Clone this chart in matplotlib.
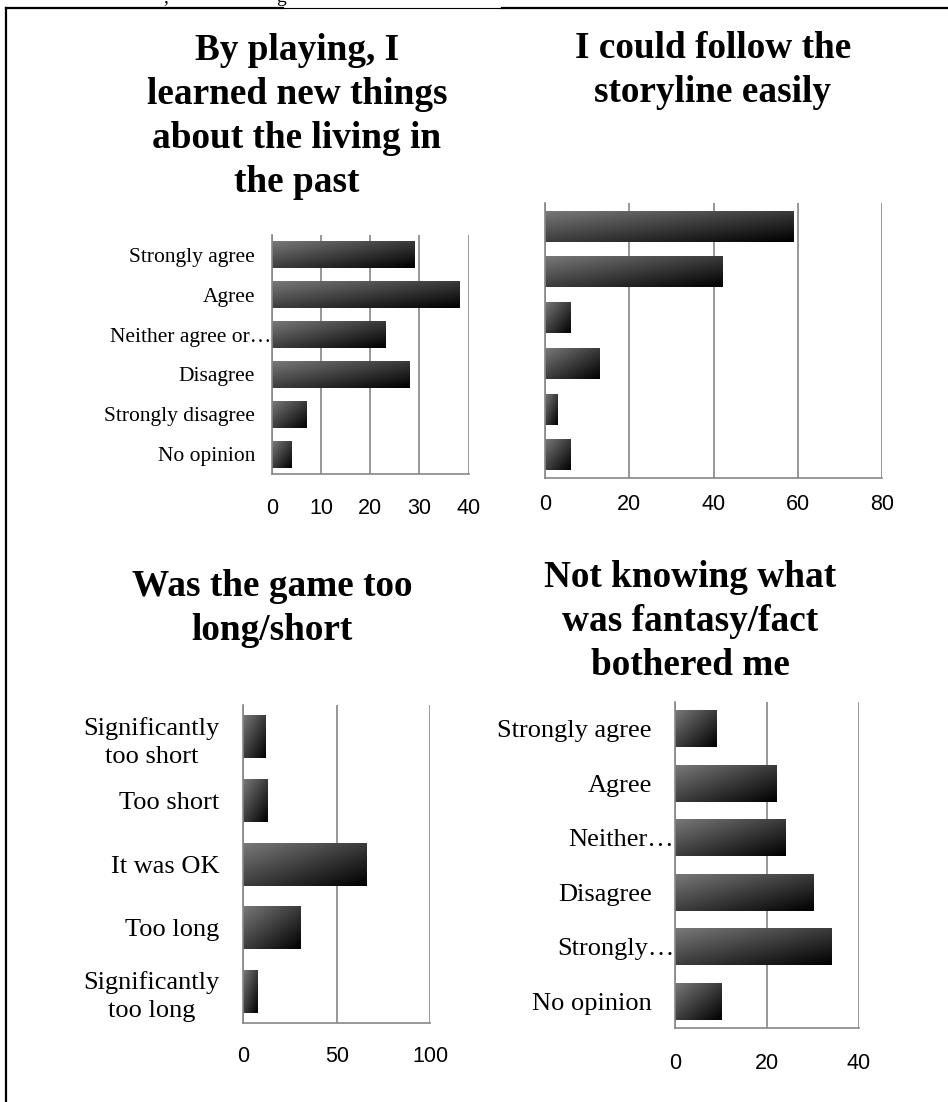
import matplotlib.pyplot as plt
from matplotlib.lines import Line2D
import numpy as np

# --- data ---
cats_agree = ["Strongly agree", "Agree", "Neither agree or…", "Disagree",
              "Strongly disagree", "No opinion"]
learned_vals = [29, 38, 23, 28, 7, 4]
learned_ticks = [0, 10, 20, 30, 40]

storyline_vals = [59, 42, 6, 13, 3, 6]
storyline_ticks = [0, 20, 40, 60, 80]

cats_length = ["Significantly\ntoo short", "Too short", "It was OK", "Too long",
               "Significantly\ntoo long"]
length_vals = [12, 13, 66, 31, 8]
length_ticks = [0, 50, 100]

cats_fantasy = ["Strongly agree", "Agree", "Neither…", "Disagree", "Strongly…",
                "No opinion"]
fantasy_vals = [9, 22, 24, 30, 34, 10]
fantasy_ticks = [0, 20, 40]

titles = ["By playing, I\nlearned new things\nabout the living in\nthe past",
          "I could follow the\nstoryline easily",
          "Was the game too\nlong/short",
          "Not knowing what\nwas fantasy/fact\nbothered me"]

W, H = 948, 1102
SERIF = ["Liberation Serif", "DejaVu Serif"]
SANS = ["Liberation Sans", "DejaVu Sans"]
GRID = "#868686"

fig = plt.figure(figsize=(W / 100, H / 100), dpi=100)


def px_axes(x0, x1, ytop, ybot):
    return fig.add_axes([x0 / W, 1 - ybot / H, (x1 - x0) / W, (ybot - ytop) / H])


# diagonal gray -> black fill, same for every bar
xn = np.linspace(0, 1, 80)
yn = np.linspace(0, 1, 80)
grad = 0.48 * (1 - (xn[None, :] + yn[:, None]) / 2)


def draw_chart(ax, vals, ticks, cats=None, cat_size=15, pads=None, xpad=12,
               label_ls=1.2):
    y = np.arange(len(vals))[::-1]
    bars = ax.barh(y, vals, height=0.68, color="none", edgecolor="none")
    for b in bars:
        x0, y0 = b.get_x(), b.get_y()
        im = ax.imshow(grad, extent=(x0, x0 + b.get_width(), y0, y0 + b.get_height()),
                       origin="upper", cmap="gray", vmin=0, vmax=1, aspect="auto",
                       interpolation="bilinear", zorder=3)
        im.set_clip_path(b)
    ax.set_xlim(ticks[0], ticks[-1])
    ax.set_ylim(-0.5, len(vals) - 0.5)
    ax.set_xticks(ticks, [str(t) for t in ticks], fontfamily=SANS, fontsize=15.5)
    if cats:
        ax.set_yticks(y, cats, fontfamily=SERIF, fontsize=cat_size)
        for i, t in enumerate(ax.yaxis.get_major_ticks()):
            if pads:
                t.set_pad(pads[i])
            t.label1.set_multialignment("center")
            t.label1.set_linespacing(label_ls)
    else:
        ax.set_yticks([])
    ax.tick_params(length=0)
    ax.tick_params(axis="x", pad=xpad)
    ax.grid(axis="x", color=GRID, lw=1.2)
    ax.set_axisbelow(True)
    for s in ("top", "right"):
        ax.spines[s].set_visible(False)
    for s in ("left", "bottom"):
        ax.spines[s].set_color(GRID)
        ax.spines[s].set_linewidth(1.2)
        ax.spines[s].set_zorder(4)


# --- top left ---
ax1 = px_axes(271.7, 468.7, 235, 474)
draw_chart(ax1, learned_vals, learned_ticks, cats_agree, cat_size=15.5,
           pads=[12, 12, 0.5, 12, 12, 12], xpad=17)

# --- top right ---
ax2 = px_axes(545, 882.3, 203.3, 477.7)
draw_chart(ax2, storyline_vals, storyline_ticks, xpad=12)

# --- bottom left ---
ax3 = px_axes(243.3, 430.3, 705, 1023.3)
draw_chart(ax3, length_vals, length_ticks, cats_length, cat_size=19,
           pads=[17] * 5, xpad=16, label_ls=1.35)

# --- bottom right ---
ax4 = px_axes(674.7, 859, 701.7, 1028.3)
draw_chart(ax4, fantasy_vals, fantasy_ticks, cats_fantasy, cat_size=19,
           pads=[16.5, 16.5, 0.5, 16.5, 0.5, 16.5], xpad=18)

# --- titles (y = baseline of the last line) ---
title_pos = [(297, 192), (713, 102), (272, 640), (690, 675)]
for (tx, ty), t in zip(title_pos, titles):
    fig.text(tx / W, 1 - ty / H, t, ha="center", va="baseline", fontsize=26.8,
             fontweight="bold", fontfamily=SERIF, linespacing=1.33)

# --- frame around the figure + bits of text cut at the top ---
fig.add_artist(Line2D([6 / W, 6 / W], [0, 1 - 8 / H], color="black", lw=1.6))
fig.add_artist(Line2D([6 / W, 283 / W], [1 - 8 / H, 1 - 8 / H], color="black", lw=1.6))
fig.add_artist(Line2D([283 / W, 502 / W], [1 - 8 / H, 1 - 8 / H], color="black", lw=0.8))
fig.add_artist(Line2D([502 / W, 1], [1 - 8 / H, 1 - 8 / H], color="black", lw=1.6))
fig.text(163 / W, 1 - 2 / H, ",", fontsize=14, fontfamily=SERIF, va="baseline")
fig.text(276 / W, 1 - 2 / H, "g", fontsize=14, fontfamily=SERIF, va="baseline")

fig.savefig("out.png", dpi=100)
print("[+] saved out.png")
